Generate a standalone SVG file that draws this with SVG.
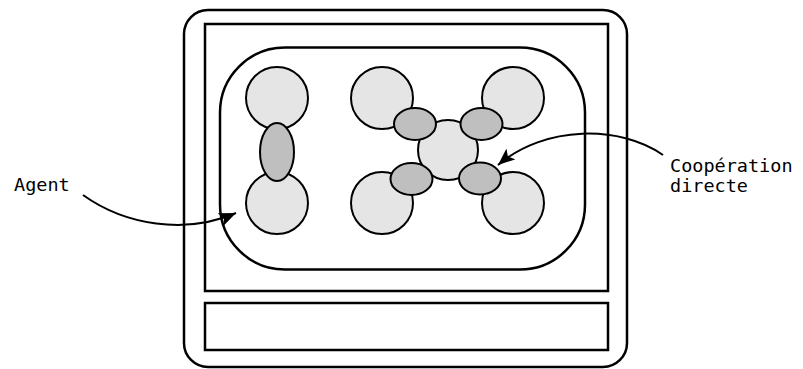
<svg xmlns="http://www.w3.org/2000/svg" width="803" height="369" viewBox="0 0 803 369">
<style>
.frame{fill:none;stroke:#000;stroke-width:2.5}
.agent{fill:#e5e5e5;stroke:#000;stroke-width:2}
.link{fill:#bfbfbf;stroke:#000;stroke-width:2}
.conn{fill:none;stroke:#000;stroke-width:2}
.lbl{font-family:"DejaVu Sans Mono","Liberation Mono",monospace;font-size:18.5px;fill:#000}
</style>
<defs>
<marker id="ah" markerUnits="userSpaceOnUse" markerWidth="20" markerHeight="14" refX="17" refY="7" orient="auto">
<path d="M0,0 L17,7 L0,14 L4,7 Z" fill="#000"/>
</marker>
</defs>
<rect x="0" y="0" width="803" height="369" fill="#fff"/>
<g id="outer"><rect class="frame" x="184" y="10" width="443" height="357" rx="24"/></g>
<g id="panel-top"><rect class="frame" x="205" y="24" width="403" height="267"/></g>
<g id="panel-bottom"><rect class="frame" x="205" y="303" width="403" height="47"/></g>
<g id="environment"><rect class="frame" x="220" y="47.5" width="365" height="222" rx="65"/></g>
<g id="agent-left-top"><circle class="agent" cx="277" cy="98" r="31"/></g>
<g id="agent-left-bottom"><circle class="agent" cx="277" cy="203" r="31"/></g>
<g id="link-left"><ellipse class="link" cx="277" cy="152" rx="17" ry="29"/></g>
<g id="agent-tl"><circle class="agent" cx="382" cy="98" r="31"/></g>
<g id="agent-tr"><circle class="agent" cx="513" cy="98" r="31"/></g>
<g id="agent-bl"><circle class="agent" cx="382" cy="203" r="31"/></g>
<g id="agent-br"><circle class="agent" cx="513" cy="203" r="31"/></g>
<g id="agent-center"><circle class="agent" cx="448" cy="150" r="30"/></g>
<g id="link-tl"><ellipse class="link" cx="415" cy="124" rx="21" ry="16"/></g>
<g id="link-tr"><ellipse class="link" cx="481.5" cy="124" rx="21" ry="16"/></g>
<g id="link-bl"><ellipse class="link" cx="411.5" cy="179" rx="21" ry="16"/></g>
<g id="link-br"><ellipse class="link" cx="480" cy="178.5" rx="21" ry="16"/></g>
<g id="connectors">
<path class="conn" d="M83,195 C125,225 185,235 236,213" marker-end="url(#ah)"/>
<path class="conn" d="M663,155 C620,125 545,125 498,165" marker-end="url(#ah)"/>
</g>
<g id="label-agent"><text class="lbl" x="14" y="191">Agent</text></g>
<g id="label-coop"><text class="lbl" x="670" y="171.5">Coopération</text><text class="lbl" x="670" y="192">directe</text></g>
</svg>
